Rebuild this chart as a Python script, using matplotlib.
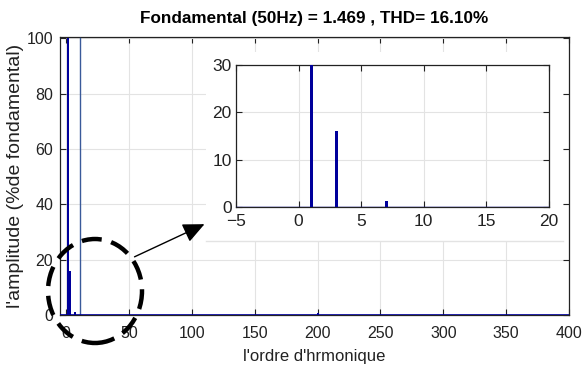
import matplotlib
matplotlib.use("Agg")
import matplotlib.pyplot as plt
from matplotlib.patches import Rectangle, Ellipse, FancyArrowPatch

plt.rcParams['font.family'] = ['Liberation Sans', 'DejaVu Sans']

# ---- data ----
title = "Fondamental (50Hz) = 1.469 , THD= 16.10%"
xlabel = "l'ordre d'hrmonique"
ylabel = "l'amplitude (%de fondamental)"
orders = [1, 2, 3, 4, 5, 6, 7, 8, 9, 10, 11, 12, 13, 200]
amps = [100, 0.05, 16, 0.05, 0.05, 0.05, 1.2, 0.05, 0.05, 0.05, 0.05, 0.05, 0.05, 0.6]
thin_line_x = 11
thin_line_h = 100
main_xticks = [0, 50, 100, 150, 200, 250, 300, 350, 400]
main_yticks = [0, 20, 40, 60, 80, 100]
inset_xticks = [-5, 0, 5, 10, 15, 20]
inset_yticks = [0, 10, 20, 30]

W, H = 582, 374
BAR = '#00009b'

def fx(x):
    return x / W

def fy(y):
    return 1 - y / H

fig = plt.figure(figsize=(W / 100, H / 100), dpi=100)

# main axes
ax = fig.add_axes([fx(60), fy(315), fx(569) - fx(60), fy(37) - fy(315)])
ax.bar(orders, amps, width=1.6, color=BAR, zorder=3)
ax.plot([thin_line_x, thin_line_x], [0, thin_line_h], color='#3a5a9a', lw=1.0, zorder=3)
ax.axhline(0, color=BAR, lw=1.2, zorder=3)
ax.set_xlim(-5, 400)
ax.set_ylim(0, 100.5)
ax.set_xticks(main_xticks)
ax.set_yticks(main_yticks)
ax.grid(True, color='#e3e3e3', lw=0.8, zorder=0)
ax.tick_params(direction='in', length=4, width=0.8, top=True, right=True,
               labelsize=11.5, pad=5, colors='#222222')
ax.tick_params(axis='x', pad=8)
for s in ax.spines.values():
    s.set_color('#222222')
    s.set_linewidth(0.9)
ax.set_title(title, fontsize=12.3, fontweight='bold', pad=10)
ax.set_xlabel(xlabel, fontsize=12, labelpad=6, color='#222222')
ax.set_ylabel(ylabel, fontsize=14, labelpad=2, color='#222222')

# white pasted region
fig.add_artist(Rectangle((fx(206), fy(241)), fx(563) - fx(206), fy(52) - fy(241),
                         transform=fig.transFigure, facecolor='white',
                         edgecolor='none', zorder=5))
fig.add_artist(plt.Line2D([fx(206), fx(563)], [fy(241), fy(241)],
                          transform=fig.transFigure, color='#e3e3e3', lw=1, zorder=6))

# inset axes
ia = fig.add_axes([fx(236), fy(207), fx(549) - fx(236), fy(65) - fy(207)], zorder=7)
ia.bar(orders, amps, width=0.25, color=BAR, zorder=3)
ia.axhline(0, color=BAR, lw=1.0, zorder=3)
ia.set_xlim(-5, 20)
ia.set_ylim(0, 30)
ia.set_xticks(inset_xticks)
ia.set_yticks(inset_yticks)
ia.grid(True, color='#e3e3e3', lw=0.8, zorder=0)
ia.tick_params(direction='in', length=4, width=0.8, top=True, right=True,
               labelsize=12.5, pad=3, colors='#222222')
ia.tick_params(axis='x', pad=5)
for s in ia.spines.values():
    s.set_color('#222222')
    s.set_linewidth(0.9)

# dashed circle
fig.add_artist(Ellipse((fx(95), fy(291)), fx(94), 104 / H, transform=fig.transFigure,
                       fill=False, edgecolor='black', lw=3.2, linestyle=(0, (4.5, 2.2)),
                       zorder=8))
# arrow
fig.add_artist(FancyArrowPatch((fx(132), fy(258)), (fx(207), fy(223)),
                               transform=fig.transFigure, arrowstyle='-|>,head_length=1.1,head_width=0.5',
                               mutation_scale=12, color='black', lw=1.0, zorder=8))

fig.savefig('out.png', dpi=100)
